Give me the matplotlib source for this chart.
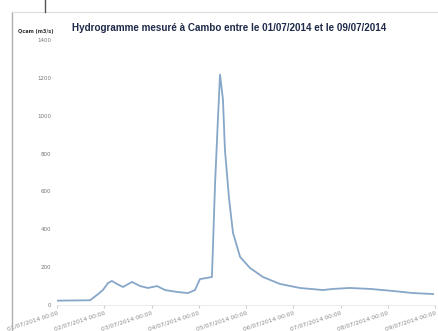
import matplotlib
matplotlib.use("Agg")
import matplotlib.pyplot as plt
import matplotlib.dates as mdates
import numpy as np
import pandas as pd
from matplotlib.lines import Line2D

# Data (hours since 01/07/2014 00:00, discharge m3/s)
hours = [0, 16.8, 20.3, 23.4, 25.9, 27.9, 30.5, 33.5, 38.1, 42.2, 46.2, 50.8,
         54.9, 61.0, 66.5, 70.1, 72.6, 76.2, 78.7, 80.3, 81.8, 82.8, 84.3,
         85.3, 87.4, 89.4, 93.0, 98.0, 104.6, 113.3, 123.4, 135.1, 140.2,
         148.8, 159.0, 170.7, 181.0, 191.0]
flow = [23, 25, 53, 80, 116, 127, 111, 95, 122, 100, 90, 100,
        79, 69, 63, 79, 137, 143, 148, 645, 995, 1217, 1085,
        820, 560, 381, 254, 196, 148, 111, 90, 79, 85,
        90, 85, 74, 63, 58]
y_ticks = [0, 200, 400, 600, 800, 1000, 1200, 1400]
tick_days = pd.date_range("2014-07-01", "2014-07-09", freq="D")
title = "Hydrogramme mesuré à Cambo entre le 01/07/2014 et le 09/07/2014"
ylabel = "Qcam (m3/s)"

t0 = pd.Timestamp("2014-07-01")
times = [t0 + pd.Timedelta(hours=h) for h in hours]

fig = plt.figure(figsize=(4.39, 3.31), dpi=100)
fig.patch.set_facecolor("white")
ax = fig.add_axes([57/439, 1 - 305/331, (435-57)/439, (305-40)/331])

ax.plot(times, flow, color="#86a7c8", lw=1.3)
ax.set_ylim(0, 1400)
ax.set_xlim(tick_days[0], tick_days[-1])
ax.set_yticks(y_ticks)
ax.set_yticklabels([str(v) for v in y_ticks], fontsize=4, color="#777777")
ax.set_xticks(tick_days)
ax.set_xticklabels([d.strftime("%d/%m/%Y %H:%M") for d in tick_days],
                   fontsize=4.3, color="#888888", rotation=18, ha="right",
                   rotation_mode="anchor")
ax.tick_params(axis="y", length=0, pad=4)
ax.tick_params(axis="x", length=2, color="#cccccc", pad=2)
for s in ["top", "right", "left"]:
    ax.spines[s].set_visible(False)
ax.spines["bottom"].set_color("#e8e8e8")
ax.spines["bottom"].set_linewidth(0.6)

# chart frame (scan border)
fig.add_artist(Line2D([12/439, 12/439], [0, 1 - 12/331], color="#b0b0b0", lw=1.0))
fig.add_artist(Line2D([12/439, 1], [1 - 12/331, 1 - 12/331], color="#dddddd", lw=0.8))
fig.add_artist(Line2D([45/439, 45/439], [1 - 12/331, 1], color="#555555", lw=1.0))

fig.text(72/439, 1 - 28/331, title, fontsize=7.1, fontweight="bold",
         color="#1f2a4a", family="Liberation Sans", va="center", ha="left")
fig.text(18/439, 1 - 31/331, ylabel, fontsize=3.6, fontweight="bold",
         color="#333333", va="center", ha="left")

fig.savefig("out.png", dpi=100)
